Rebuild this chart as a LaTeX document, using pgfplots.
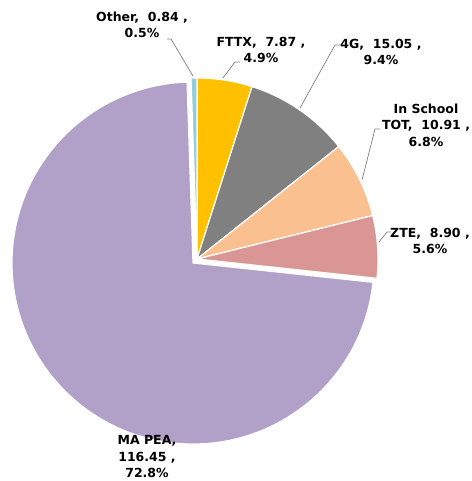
\documentclass[border=0pt]{standalone}
\usepackage{fontspec}
\setmainfont{DejaVu Sans}
\usepackage{pgfplots}
\usepackage{pgfplotstable}
\pgfplotsset{compat=1.18}

\definecolor{cFTTX}{HTML}{FFC000}
\definecolor{cFourG}{HTML}{808080}
\definecolor{cTOT}{HTML}{FAC090}
\definecolor{cZTE}{HTML}{D99694}
\definecolor{cMAPEA}{HTML}{B1A0C7}
\definecolor{cOther}{HTML}{92CDDC}
\definecolor{leader}{HTML}{7F7F7F}

\pgfplotstableread{
name value
FTTX 7.87
4G 15.05
TOT 10.91
ZTE 8.90
MAPEA 116.45
Other 0.84
}\piedata

% total
\gdef\pietotal{0}
\foreach \i in {0,...,5}{%
  \pgfplotstablegetelem{\i}{value}\of\piedata
  \pgfmathsetmacro\t{\pietotal+\pgfplotsretval}%
  \xdef\pietotal{\t}%
}
% start / end angles, clockwise from 12 o'clock
\gdef\cum{0}
\foreach \i in {0,...,5}{%
  \pgfplotstablegetelem{\i}{value}\of\piedata
  \pgfmathsetmacro\a{90-(\cum/\pietotal)*360}%
  \pgfmathsetmacro\newcum{\cum+\pgfplotsretval}%
  \pgfmathsetmacro\b{90-(\newcum/\pietotal)*360}%
  \expandafter\xdef\csname sA\i\endcsname{\a}%
  \expandafter\xdef\csname eA\i\endcsname{\b}%
  \xdef\cum{\newcum}%
}

\newcommand\slice[4]{%
  \fill[#2, draw=white, line width=1.2pt, line join=round]
    (axis cs:#3,#4) -- ++(\csname sA#1\endcsname:181pt)
    arc[start angle=\csname sA#1\endcsname, end angle=\csname eA#1\endcsname, radius=181pt]
    -- cycle;}

\begin{document}
\begin{tikzpicture}
\begin{axis}[hide axis, scale only axis, width=471pt, height=481pt,
  xmin=0, xmax=471, ymin=0, ymax=481, clip=false]
  \slice{0}{cFTTX}{197}{222}
  \slice{1}{cFourG}{197}{222}
  \slice{2}{cTOT}{197}{222}
  \slice{3}{cZTE}{197}{222}
  \slice{4}{cMAPEA}{193}{218}
  \slice{5}{cOther}{197}{222}

  % leader lines
  \draw[leader, line width=0.7pt] (axis cs:167,442) -- (axis cs:171,442) -- (axis cs:193,405);
  \draw[leader, line width=0.7pt] (axis cs:240,419) -- (axis cs:235,419) -- (axis cs:223,403);
  \draw[leader, line width=0.7pt] (axis cs:342,436) -- (axis cs:335,436) -- (axis cs:300,373);
  \draw[leader, line width=0.7pt] (axis cs:380,352) -- (axis cs:375,352) -- (axis cs:362,301);
  \draw[leader, line width=0.7pt] (axis cs:391,249) -- (axis cs:387,249) -- (axis cs:379,239);

  \tikzset{lbl/.style={align=center, inner sep=0pt, font=\fontsize{12.5}{16.5}\selectfont\bfseries}}
  \node[lbl] at (axis cs:142,456) {Other,\ \ 0.84 ,\\0.5\%};
  \node[lbl] at (axis cs:261,431) {FTTX,\ \ 7.87 ,\\4.9\%};
  \node[lbl] at (axis cs:381,429) {4G,\ \ 15.05 ,\\9.4\%};
  \node[lbl] at (axis cs:426,356) {In School\\TOT,\ \ 10.91 ,\\6.8\%};
  \node[lbl] at (axis cs:430,240) {ZTE,\ \ 8.90 ,\\5.6\%};
  \node[lbl] at (axis cs:147,24) {MA PEA,\\116.45 ,\\72.8\%};
\end{axis}
\pgfresetboundingbox
\useasboundingbox (0,0) rectangle (471pt,481pt);
\end{tikzpicture}
\end{document}
